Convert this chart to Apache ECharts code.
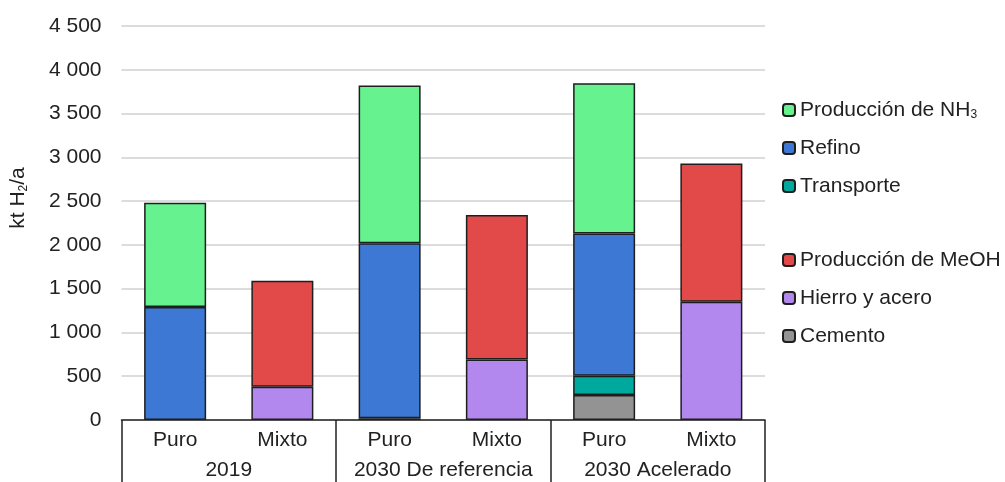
<!DOCTYPE html>
<html><head><meta charset="utf-8">
<script src="https://cdn.jsdelivr.net/npm/echarts@6/dist/echarts.min.js"></script>
<style>html,body{margin:0;padding:0;background:#fff}#c{width:1005px;height:482px}</style>
</head><body><div id="c"></div>
<script>
const categories = ['Puro','Mixto','Puro','Mixto','Puro','Mixto'];
const groups = ['2019','2030 De referencia','2030 Acelerado'];
const yTicks = [0,500,1000,1500,2000,2500,3000,3500,4000,4500];
const cemento    = [null, null, null, null, 285, null];
const transporte = [null, null, 20,   null, 220, null];
const refino     = [1290, null, 2000, null, 1625, null];
const nh3        = [1190, null, 1800, null, 1715, null];
const hierro     = [null, 380,  null, 690,  null, 1350];
const meoh       = [null, 1210, null, 1650, null, 1580];

const FONT = 'Liberation Sans, Arial, sans-serif';
const FS = 21;
const TXT = '#222';
const BORDER = '#1e1e1e';
function s(name, data, color){
  return {name, type:'bar', stack:'t', data, xAxisIndex:0, barWidth:62,
    itemStyle:{color, borderColor:BORDER, borderWidth:1.5}, emphasis:{disabled:true}};
}
const sub = {a:{fontSize:FS,fontFamily:FONT,color:TXT}, s:{fontSize:12,fontFamily:FONT,color:TXT,padding:[10,0,0,0]}};
const chart = echarts.init(document.getElementById('c'));
chart.setOption({
  animation:false,
  textStyle:{fontFamily:FONT},
  grid:{left:120,right:240,top:26,bottom:62},
  legend:[
    {orient:'vertical',left:777,top:93,itemWidth:12,itemHeight:12,itemGap:14,
     data:['Producción de NH3','Refino','Transporte'],
     textStyle:{fontSize:FS,color:TXT,fontFamily:FONT,lineHeight:24,rich:sub},
     formatter:n=> n==='Producción de NH3' ? '{a|Producción de NH}{s|3}' : '{a|'+n+'}'},
    {orient:'vertical',left:777,top:243,itemWidth:12,itemHeight:12,itemGap:14,
     data:['Producción de MeOH','Hierro y acero','Cemento'],
     textStyle:{fontSize:FS,color:TXT,fontFamily:FONT,lineHeight:24}}
  ],
  xAxis:[
    {type:'category',data:categories,position:'bottom',
     axisLine:{show:true,lineStyle:{color:'#222',width:1.5}},axisTick:{show:false},
     axisLabel:{fontSize:FS,color:TXT,margin:10,fontFamily:FONT,interval:0}},
    {type:'category',data:groups,position:'bottom',gridIndex:0,
     axisLine:{show:false},
     axisTick:{show:true,length:62,lineStyle:{color:'#222',width:1.5}},
     axisLabel:{fontSize:FS,color:TXT,margin:40,fontFamily:FONT,interval:0},
     splitLine:{show:false}}
  ],
  yAxis:{type:'value',min:yTicks[0],max:yTicks[yTicks.length-1],interval:500,
    axisLine:{show:false},axisTick:{show:false},
    splitLine:{lineStyle:{color:'#dcdcdc',width:2}},
    axisLabel:{fontSize:FS,color:TXT,margin:20,fontFamily:FONT,
      formatter:v=>String(v).replace(/\B(?=(\d{3})+(?!\d))/g,' ')},
    name:'{a|kt H}{s|2}{a|/a}',nameLocation:'middle',nameRotate:90,nameGap:92,
    nameTextStyle:{rich:sub,padding:[0,0,0,50]}},
  series:[
    s('Cemento',cemento,'#939393'),
    s('Transporte',transporte,'#00A99D'),
    s('Refino',refino,'#3D78D4'),
    s('Producción de NH3',nh3,'#66F28F'),
    s('Hierro y acero',hierro,'#B388EE'),
    s('Producción de MeOH',meoh,'#E24A4A')
  ]
});
</script></body></html>
